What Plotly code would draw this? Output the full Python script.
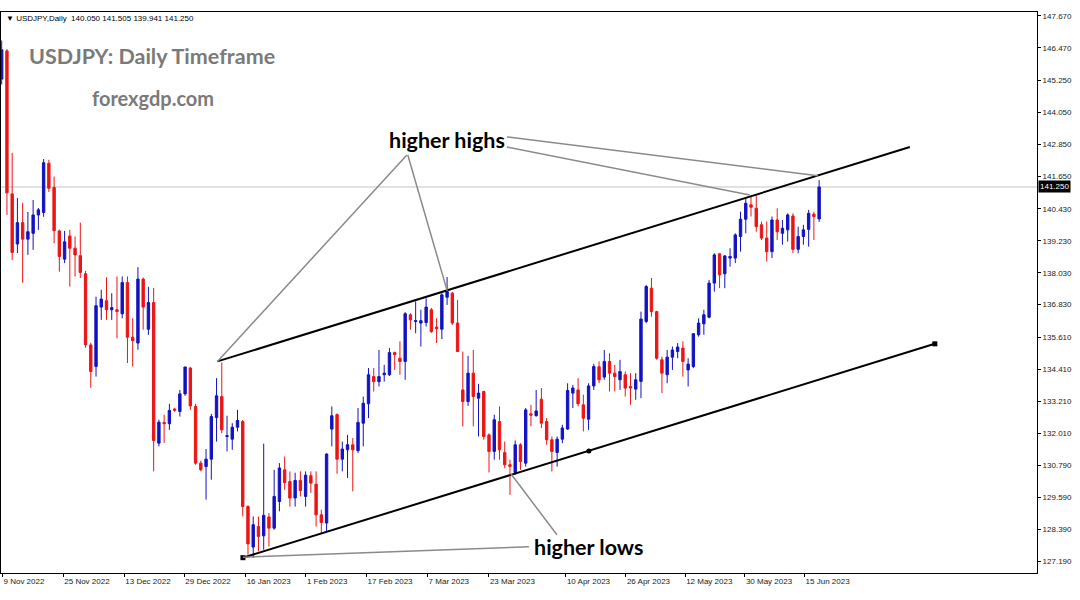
import pandas as pd
import plotly.graph_objects as go

# ---------------- data ----------------
dates = pd.bdate_range("2022-11-09", "2023-06-15").strftime("%Y-%m-%d").tolist()

opens = [145.30, 146.36, 140.99, 139.11, 139.91, 139.29, 139.51, 140.20, 140.29, 142.14,
         141.23, 139.60, 138.54, 139.41, 138.95, 138.67, 137.99, 135.32, 134.51, 136.74,
         136.98, 136.64, 136.64, 136.49, 137.66, 135.61, 135.39, 137.79, 135.91, 136.91,
         131.63, 132.41, 132.36, 132.91, 132.82, 133.48, 134.45, 133.01, 130.88, 130.75,
         131.03, 132.59, 133.38, 131.88, 131.78, 132.23, 132.44, 129.25, 127.73, 128.50,
         128.15, 128.86, 128.44, 129.44, 130.63, 130.19, 129.57, 130.23, 129.63, 130.41,
         130.09, 128.94, 128.63, 132.16, 132.70, 131.03, 131.38, 131.57, 131.35, 132.38,
         133.11, 134.13, 133.94, 134.20, 134.20, 135.03, 134.82, 134.70, 136.45, 136.20,
         136.14, 136.16, 136.64, 135.99, 135.91, 137.11, 137.26, 136.14, 133.63, 133.19,
         134.26, 133.32, 133.57, 131.94, 131.32, 132.44, 131.28, 130.82, 130.53, 131.57,
         130.88, 132.73, 132.66, 133.28, 132.44, 131.76, 131.28, 131.78, 132.16, 133.51,
         133.63, 133.07, 132.53, 133.78, 134.50, 134.11, 134.70, 134.26, 134.01, 134.20,
         133.76, 133.66, 133.95, 136.20, 137.45, 136.57, 134.76, 134.20, 134.86, 135.07,
         135.20, 134.38, 134.51, 135.70, 136.11, 136.36, 137.64, 138.74, 137.99, 138.58,
         138.58, 139.39, 140.04, 140.58, 140.45, 139.83, 139.33, 138.82, 140.01, 139.51,
         139.64, 140.16, 138.91, 139.39, 139.66, 140.23, 140.05]
highs = [146.75, 146.43, 142.53, 140.84, 140.65, 140.31, 140.76, 140.46, 142.30, 142.27,
         141.64, 139.65, 139.60, 139.64, 139.39, 139.91, 138.10, 135.40, 137.13, 137.39,
         137.86, 137.26, 137.89, 137.89, 137.89, 136.32, 138.24, 137.85, 137.50, 137.46,
         132.51, 132.70, 133.11, 132.96, 133.63, 134.50, 134.50, 133.11, 130.97, 131.41,
         132.73, 134.07, 134.66, 132.66, 132.38, 132.88, 132.50, 129.30, 128.88, 128.88,
         131.61, 129.01, 130.63, 130.88, 131.13, 130.57, 130.52, 130.57, 130.57, 130.57,
         130.57, 129.13, 131.25, 133.01, 132.75, 131.69, 131.94, 131.82, 132.95, 133.38,
         134.45, 134.45, 135.13, 134.57, 135.20, 135.07, 135.45, 136.55, 136.51, 136.95,
         136.64, 137.07, 136.71, 136.32, 137.26, 137.87, 137.31, 137.01, 135.07, 134.91,
         135.13, 133.86, 133.60, 132.00, 132.70, 133.01, 131.69, 131.01, 131.73, 131.63,
         132.95, 133.07, 133.63, 133.70, 132.57, 131.88, 131.88, 132.32, 133.88, 133.82,
         134.07, 133.45, 133.88, 134.61, 134.70, 135.13, 135.01, 134.57, 134.76, 134.32,
         134.26, 134.26, 136.57, 137.57, 137.83, 136.60, 134.88, 135.13, 135.26, 135.39,
         135.45, 134.82, 135.76, 136.32, 136.64, 137.76, 138.76, 138.76, 138.70, 138.95,
         139.51, 140.32, 140.83, 140.89, 140.95, 139.95, 139.95, 140.14, 140.45, 140.01,
         140.26, 140.26, 139.76, 139.83, 140.39, 140.32, 141.505]
lows = [145.10, 140.20, 138.51, 138.77, 137.65, 138.70, 138.89, 139.64, 140.13, 141.06,
        139.14, 138.07, 138.39, 137.51, 137.89, 137.83, 135.21, 133.71, 134.13, 136.26,
        136.26, 136.26, 135.57, 136.32, 134.64, 134.51, 135.14, 135.89, 135.70, 130.57,
        131.51, 131.64, 132.13, 132.81, 132.63, 133.41, 132.88, 130.82, 130.57, 129.51,
        130.26, 131.69, 132.01, 131.32, 131.38, 132.07, 128.88, 127.44, 127.32, 127.57,
        127.63, 127.75, 128.38, 129.07, 129.88, 129.25, 129.25, 129.63, 129.25, 129.76,
        128.50, 128.26, 128.32, 131.51, 130.48, 130.57, 130.32, 129.82, 131.26, 131.51,
        132.57, 133.57, 133.76, 133.94, 134.15, 134.38, 134.20, 134.01, 135.89, 135.76,
        135.26, 136.01, 135.77, 135.39, 135.54, 136.82, 136.07, 135.06, 132.26, 133.03,
        132.26, 131.88, 131.76, 130.53, 131.01, 131.01, 130.69, 129.69, 130.44, 130.63,
        130.75, 132.26, 132.63, 132.20, 131.57, 130.57, 130.75, 131.63, 132.13, 132.95,
        133.01, 132.07, 132.13, 133.63, 133.88, 134.01, 133.57, 133.57, 133.63, 133.38,
        133.07, 133.26, 133.32, 136.14, 136.38, 134.76, 133.51, 133.88, 134.38, 134.82,
        134.13, 133.76, 134.45, 135.63, 135.70, 136.32, 137.32, 137.45, 137.45, 138.26,
        138.39, 138.82, 139.51, 140.14, 139.57, 139.26, 138.45, 138.58, 139.26, 139.08,
        139.20, 138.76, 138.76, 139.08, 139.01, 139.26, 139.941]
closes = [146.40, 141.03, 138.79, 139.91, 139.29, 139.57, 140.20, 140.39, 142.16, 141.20,
          139.61, 138.64, 139.19, 138.95, 138.70, 138.04, 135.32, 134.32, 136.79, 137.04,
          136.64, 136.72, 136.57, 137.66, 135.61, 135.48, 137.79, 136.74, 136.91, 131.73,
          132.42, 132.36, 132.86, 132.87, 133.48, 134.49, 133.03, 130.88, 130.63, 131.03,
          132.63, 133.41, 132.13, 131.91, 132.23, 132.48, 129.25, 127.85, 128.57, 128.13,
          128.92, 128.44, 129.63, 130.70, 130.15, 129.57, 130.23, 129.85, 130.43, 130.13,
          128.94, 128.65, 131.22, 132.66, 131.03, 131.41, 131.57, 131.38, 132.41, 133.13,
          134.20, 133.94, 134.13, 134.26, 135.03, 134.95, 134.70, 136.49, 136.26, 136.23,
          136.23, 136.74, 135.82, 135.93, 137.20, 137.32, 136.14, 135.07, 133.19, 134.26,
          133.38, 133.51, 131.88, 131.32, 132.51, 131.38, 130.82, 130.76, 131.57, 130.94,
          132.88, 132.68, 132.84, 132.38, 131.76, 131.32, 131.78, 132.20, 133.61, 133.70,
          133.11, 132.57, 133.78, 134.51, 134.01, 134.70, 134.26, 134.13, 134.32, 133.70,
          133.70, 134.01, 136.29, 137.51, 136.57, 134.82, 134.26, 134.86, 135.13, 135.24,
          134.70, 134.60, 135.74, 136.14, 136.45, 137.64, 138.70, 137.95, 138.66, 138.64,
          139.45, 140.04, 140.64, 140.49, 139.76, 139.33, 138.82, 140.01, 139.57, 139.70,
          140.20, 138.91, 139.39, 139.64, 140.26, 140.14, 141.25]

x_tick_labels = ["9 Nov 2022", "25 Nov 2022", "13 Dec 2022", "29 Dec 2022", "16 Jan 2023",
                 "1 Feb 2023", "17 Feb 2023", "7 Mar 2023", "23 Mar 2023", "10 Apr 2023",
                 "26 Apr 2023", "12 May 2023", "30 May 2023", "15 Jun 2023"]
y_tick_values = [147.67, 146.47, 145.25, 144.05, 142.85, 141.65, 140.43, 139.23, 138.03,
                 136.83, 135.61, 134.41, 133.21, 132.01, 130.79, 129.59, 128.39, 127.19]
last_price = 141.25
header_text = "USDJPY,Daily\u00a0\u00a0140.050 141.505 139.941 141.250"

# trend channel anchors (bar index, price)
upper_line_bars = [41.18, 173.31]
upper_line_prices = [134.70, 142.75]
lower_line_bars = [46.04, 112.06, 178.08]
lower_line_prices = [127.33, 131.34, 135.36]

# ---------------- layout helpers ----------------
BLUE = "#1212c4"
RED = "#ee1414"
xs = list(range(len(dates)))

# axis tick placement as drawn by the terminal (bar units)
x_tick_pos = [0.15, 11.75, 23.39, 34.84, 46.56, 58.06, 69.64, 81.28, 92.98, 107.67,
              119.12, 130.43, 141.83, 153.22]

fig = go.Figure()
fig.add_trace(go.Candlestick(
    x=xs, open=opens, high=highs, low=lows, close=closes,
    increasing=dict(line=dict(color=BLUE, width=1), fillcolor=BLUE),
    decreasing=dict(line=dict(color=RED, width=1), fillcolor=RED),
    whiskerwidth=0, hoverinfo="skip", showlegend=False,
))

# channel lines
fig.add_trace(go.Scatter(x=upper_line_bars, y=upper_line_prices, mode="lines",
                         line=dict(color="black", width=2), hoverinfo="skip", showlegend=False))
fig.add_trace(go.Scatter(x=[lower_line_bars[0], lower_line_bars[-1]],
                         y=[lower_line_prices[0], lower_line_prices[-1]], mode="lines",
                         line=dict(color="black", width=2), hoverinfo="skip", showlegend=False))
fig.add_trace(go.Scatter(x=lower_line_bars, y=lower_line_prices, mode="markers",
                         marker=dict(color="black", size=5, symbol=["square", "circle", "square"]),
                         hoverinfo="skip", showlegend=False))

# callout lines (bar index, price)
callouts = [
    ((77.33, 142.45), (41.18, 134.70)),
    ((77.50, 142.45), (85.02, 137.35)),
    ((96.41, 142.75), (142.78, 140.95)),
    ((96.41, 143.13), (155.75, 141.67)),
    ((100.61, 127.74), (46.04, 127.35)),
    ((105.96, 128.19), (97.18, 130.48)),
]
shapes = []
for (a, b) in callouts:
    shapes.append(dict(type="line", xref="x", yref="y", x0=a[0], y0=a[1], x1=b[0], y1=b[1],
                       line=dict(color="#8a8a8a", width=1.5), layer="above"))
shapes.append(dict(type="line", xref="paper", yref="y", x0=0, x1=1, y0=last_price, y1=last_price,
                   line=dict(color="#c4c4c4", width=1), layer="below"))

tick_font = dict(family="Liberation Sans", size=8, color="#222222")
annotations = [
    dict(xref="paper", yref="paper", x=0.003, y=0.9893, xanchor="left", yanchor="middle",
         text="\u25BC " + header_text, showarrow=False,
         font=dict(family="Liberation Sans", size=8, color="black")),
    dict(xref="paper", yref="paper", x=0.0255, y=0.9216, xanchor="left", yanchor="middle",
         text="USDJPY: Daily Timeframe", showarrow=False,
         font=dict(family="Lato", size=21.5, color="#7a7a7a", weight="bold")),
    dict(xref="paper", yref="paper", x=0.0855, y=0.8467, xanchor="left", yanchor="middle",
         text="forexgdp.com", showarrow=False,
         font=dict(family="Lato", size=20, color="#7a7a7a", weight="bold")),
    dict(xref="x", yref="y", x=85.06, y=143.02, xanchor="center", yanchor="middle",
         text="higher highs", showarrow=False,
         font=dict(family="Lato", size=21.5, color="black", weight="bold")),
    dict(xref="x", yref="y", x=112.06, y=127.74, xanchor="center", yanchor="middle",
         text="higher lows", showarrow=False,
         font=dict(family="Lato", size=21.5, color="black", weight="bold")),
    dict(xref="paper", yref="y", x=1, y=last_price, xanchor="left", yanchor="middle",
         xshift=1, text=f"{last_price:.3f}", showarrow=False, bgcolor="black", borderpad=1,
         font=dict(family="Liberation Sans", size=8, color="white")),
]

fig.update_layout(
    width=1080, height=600,
    margin=dict(l=1, r=43, t=12, b=27, autoexpand=False),
    paper_bgcolor="white", plot_bgcolor="white",
    boxgap=0.35, boxgroupgap=0.3,
    shapes=shapes, annotations=annotations,
    xaxis=dict(range=[-0.134, 197.58], showgrid=False, zeroline=False,
               showline=True, linecolor="black", linewidth=1, mirror=True,
               ticks="outside", ticklen=3, tickcolor="black",
               tickvals=x_tick_pos, ticktext=x_tick_labels,
               ticklabelposition="outside right", tickfont=tick_font,
               rangeslider=dict(visible=False), fixedrange=True),
    yaxis=dict(side="right", range=[126.755, 147.82], showgrid=False, zeroline=False,
               showline=True, linecolor="black", linewidth=1, mirror=True,
               ticks="outside", ticklen=3, tickcolor="black",
               tickvals=y_tick_values, ticktext=[f"{v:.3f}" for v in y_tick_values],
               tickfont=tick_font, fixedrange=True),
)

fig.write_html("out.html")
